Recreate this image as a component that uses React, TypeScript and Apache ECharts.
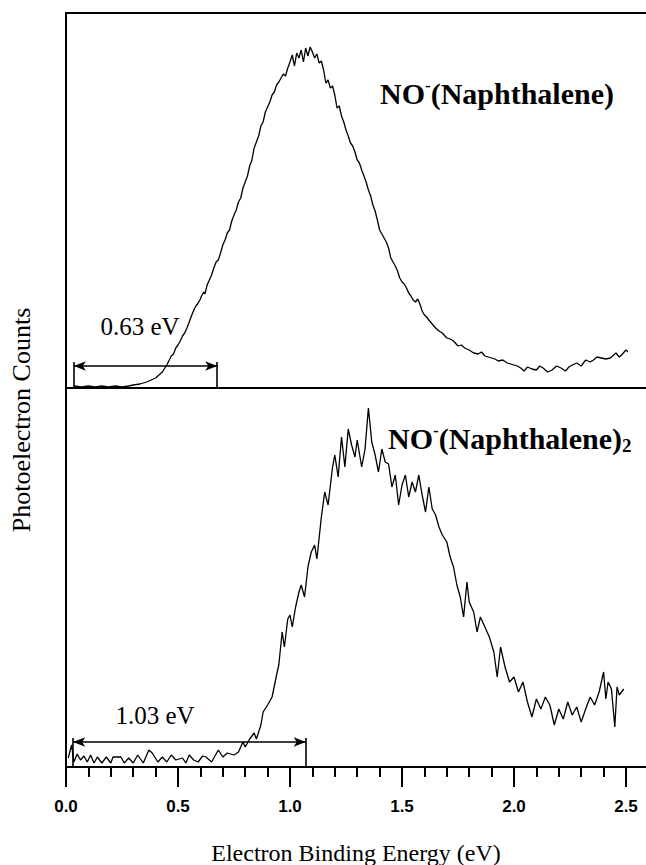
import { useEffect, useRef } from "react";
import * as echarts from "echarts";

// ---- data (arbitrary count units) ----
const topEnergy = [
  0.035, 0.07, 0.1, 0.13, 0.16, 0.19, 0.22, 0.25, 0.28, 0.3, 0.33, 0.36, 0.38, 0.4, 0.415, 0.43, 0.45, 0.47, 0.48, 0.49,
  0.5, 0.51, 0.52, 0.53, 0.54, 0.55, 0.56, 0.565, 0.575, 0.58, 0.59, 0.6, 0.605, 0.615, 0.62, 0.63, 0.64, 0.65, 0.66, 0.67,
  0.68, 0.69, 0.7, 0.71, 0.72, 0.73, 0.74, 0.75, 0.76, 0.77, 0.78, 0.79, 0.8, 0.81, 0.82, 0.83, 0.84, 0.85, 0.86, 0.87,
  0.88, 0.89, 0.9, 0.91, 0.92, 0.93, 0.94, 0.95, 0.96, 0.97, 0.98, 0.99, 1.0, 1.01, 1.02, 1.03, 1.04, 1.05, 1.06, 1.07,
  1.08, 1.09, 1.1, 1.11, 1.12, 1.13, 1.14, 1.15, 1.16, 1.17, 1.18, 1.19, 1.2, 1.21, 1.22, 1.23, 1.24, 1.25, 1.26, 1.27,
  1.28, 1.29, 1.3, 1.31, 1.32, 1.33, 1.34, 1.35, 1.36, 1.37, 1.38, 1.39, 1.4, 1.41, 1.42, 1.43, 1.44, 1.45, 1.46, 1.47,
  1.48, 1.49, 1.5, 1.51, 1.52, 1.53, 1.54, 1.55, 1.56, 1.57, 1.58, 1.59, 1.6, 1.61, 1.62, 1.635, 1.65, 1.665, 1.68, 1.7,
  1.715, 1.73, 1.75, 1.765, 1.78, 1.8, 1.82, 1.84, 1.855, 1.87, 1.885, 1.9, 1.915, 1.93, 1.95, 1.97, 1.985, 2.0, 2.015, 2.03,
  2.045, 2.06, 2.08, 2.1, 2.115, 2.13, 2.15, 2.17, 2.19, 2.21, 2.23, 2.245, 2.26, 2.28, 2.3, 2.32, 2.34, 2.355, 2.37, 2.39,
  2.41, 2.43, 2.445, 2.455, 2.47, 2.48, 2.5, 2.51, 2.525, 2.54,
];
const topCounts = [
  2, 1, 2, 1, 2, 1, 2, 1, 2, 3, 4, 6, 8, 10, 13, 16, 23, 32, 34, 40,
  43, 47, 52, 55, 60, 66, 72, 75, 80, 82, 85, 89, 92, 96, 94, 103, 108, 113, 120, 126,
  128, 135, 143, 148, 155, 158, 167, 173, 178, 186, 190, 200, 206, 212, 222, 228, 240, 246, 252, 262,
  266, 276, 281, 286, 293, 296, 303, 306, 310, 314, 312, 320, 326, 333, 322, 335, 330, 338, 326, 340,
  332, 341, 336, 330, 334, 325, 327, 318, 305, 308, 300, 302, 293, 280, 282, 272, 266, 258, 252, 245,
  242, 236, 228, 225, 218, 212, 206, 198, 192, 183, 177, 168, 158, 154, 150, 146, 140, 130, 126, 122,
  117, 110, 106, 104, 100, 95, 92, 88, 86, 89, 84, 77, 73, 71, 68, 64, 60, 57, 55, 50,
  49, 47, 42, 43, 40, 38, 35, 34, 36, 32, 31, 30, 29, 27, 28, 25, 24, 23, 22, 20,
  17, 21, 19, 18, 22, 20, 16, 18, 22, 20, 17, 21, 23, 25, 22, 28, 26, 28, 31, 30,
  29, 30, 33, 35, 31, 33, 38, 36, 34, 35,
];

const bottomEnergy = [
  0.01, 0.025, 0.035, 0.05, 0.065, 0.08, 0.095, 0.11, 0.125, 0.14, 0.16, 0.18, 0.2, 0.21, 0.245, 0.26, 0.28, 0.3, 0.32, 0.345,
  0.37, 0.385, 0.41, 0.43, 0.45, 0.47, 0.49, 0.52, 0.535, 0.55, 0.57, 0.59, 0.61, 0.625, 0.65, 0.68, 0.7, 0.72, 0.75, 0.77,
  0.79, 0.8, 0.82, 0.84, 0.85, 0.87, 0.88, 0.9, 0.92, 0.94, 0.95, 0.965, 0.975, 0.99, 1.0, 1.01, 1.025, 1.04, 1.05, 1.065,
  1.08, 1.095, 1.11, 1.12, 1.14, 1.155, 1.17, 1.19, 1.2, 1.215, 1.23, 1.245, 1.26, 1.275, 1.29, 1.3, 1.32, 1.335, 1.35, 1.365,
  1.38, 1.395, 1.41, 1.425, 1.44, 1.455, 1.47, 1.485, 1.5, 1.515, 1.53, 1.545, 1.56, 1.575, 1.59, 1.605, 1.62, 1.635, 1.65, 1.665,
  1.68, 1.7, 1.715, 1.73, 1.745, 1.76, 1.775, 1.79, 1.8, 1.82, 1.835, 1.85, 1.87, 1.89, 1.91, 1.925, 1.94, 1.96, 1.98, 2.0,
  2.02, 2.04, 2.06, 2.08, 2.1, 2.12, 2.14, 2.16, 2.18, 2.2, 2.22, 2.24, 2.26, 2.28, 2.3, 2.32, 2.34, 2.36, 2.38, 2.4,
  2.41, 2.42, 2.435, 2.45, 2.46, 2.47, 2.49,
];
const bottomCounts = [
  9, 22, 5, 13, 7, 11, 5, 12, 4, 10, 4, 10, 4, 10, 10, 4, 9, 4, 12, 4,
  17, 14, 5, 10, 5, 12, 7, 9, 4, 12, 7, 5, 11, 10, 5, 17, 10, 14, 12, 15,
  25, 20, 28, 34, 28, 42, 55, 62, 70, 92, 102, 135, 120, 148, 152, 140, 160, 175, 182, 170,
  200, 215, 222, 208, 250, 275, 262, 300, 312, 290, 330, 300, 338, 322, 310, 327, 300, 318, 359, 325,
  312, 295, 318, 305, 303, 280, 292, 262, 282, 292, 270, 285, 275, 292, 272, 255, 280, 258, 252, 240,
  232, 225, 210, 200, 182, 170, 150, 185, 165, 155, 135, 150, 140, 130, 115, 90, 120, 100, 85, 90,
  75, 85, 65, 50, 68, 58, 70, 62, 42, 58, 48, 65, 52, 60, 45, 58, 70, 62, 75, 95,
  68, 85, 78, 40, 80, 72, 78,
];

const xTickValues = [0, 0.5, 1.0, 1.5, 2.0, 2.5];
const topThreshold = { from: 0.035, to: 0.675, level: 22, label: "0.63 eV" };
const bottomThreshold = { from: 0.032, to: 1.07, level: 25, label: "1.03 eV" };
const xTitle = "Electron Binding Energy (eV)";
const yTitle = "Photoelectron Counts";

const BLACK = "#000";
const SERIF = "'Liberation Serif', 'Times New Roman', serif";
const SANS = "'Liberation Sans', Arial, sans-serif";

function zip(xs: number[], ys: number[]) {
  return xs.map((x, i) => [x, ys[i]]);
}

function thresholdMarks(t: { from: number; to: number; level: number }) {
  return {
    silent: true,
    symbol: ["none", "none"],
    lineStyle: { color: BLACK, width: 1.6, type: "solid" },
    label: { show: false },
    emphasis: { disabled: true },
    data: [
      [{ coord: [t.from, 0] }, { coord: [t.from, t.level + 4] }],
      [{ coord: [t.to, 0] }, { coord: [t.to, t.level + 4] }],
      [
        { coord: [t.from, t.level], symbol: "arrow", symbolSize: [7, 12] },
        { coord: [t.to, t.level], symbol: "arrow", symbolSize: [7, 12] },
      ],
    ],
  };
}

export default function App() {
  const ref = useRef<HTMLDivElement>(null);
  useEffect(() => {
    document.body.style.margin = "0";
    if (!ref.current) return;
    const chart = echarts.init(ref.current, undefined, { renderer: "svg" });
    const nameRich = {
      b: { fontFamily: SERIF, fontWeight: "bold", fontSize: 30, lineHeight: 33, color: BLACK },
      s: { fontFamily: SERIF, fontWeight: "bold", fontSize: 17, lineHeight: 17, color: BLACK, verticalAlign: "top" },
      u: { fontFamily: SERIF, fontWeight: "bold", fontSize: 19, lineHeight: 19, color: BLACK, verticalAlign: "bottom" },
    };
    const hiddenAxisBits = { axisTick: { show: false }, axisLabel: { show: false }, splitLine: { show: false } };
    const frameLine = { show: true, lineStyle: { color: BLACK, width: 2 } };
    chart.setOption({
      animation: false,
      backgroundColor: "#fff",
      grid: [
        { left: 66, top: 13, width: 560, height: 375 },
        { left: 66, top: 388, width: 560, height: 379 },
      ],
      xAxis: [
        { type: "value", gridIndex: 0, min: 0, max: 2.5, position: "bottom", axisLine: frameLine, ...hiddenAxisBits },
        { type: "value", gridIndex: 0, min: 0, max: 2.5, position: "top", axisLine: frameLine, ...hiddenAxisBits },
        {
          type: "value",
          gridIndex: 1,
          min: 0,
          max: 2.5,
          interval: 0.5,
          position: "bottom",
          axisLine: frameLine,
          axisTick: { show: true, inside: false, length: 20, lineStyle: { color: BLACK, width: 2 } },
          minorTick: { show: true, splitNumber: 5, length: 10, lineStyle: { color: BLACK, width: 2 } },
          splitLine: { show: false },
          axisLabel: {
            show: true,
            margin: 31,
            color: BLACK,
            fontFamily: SANS,
            fontWeight: "bold",
            fontSize: 17,
            formatter: (v: number) => (xTickValues.some((t) => Math.abs(t - v) < 1e-6) ? v.toFixed(1) : ""),
          },
        },
      ],
      yAxis: [
        { type: "value", gridIndex: 0, min: 0, max: 375, axisLine: frameLine, ...hiddenAxisBits },
        { type: "value", gridIndex: 1, min: 0, max: 379, axisLine: frameLine, ...hiddenAxisBits },
      ],
      series: [
        {
          type: "line",
          xAxisIndex: 0,
          yAxisIndex: 0,
          data: zip(topEnergy, topCounts),
          showSymbol: false,
          clip: false,
          lineStyle: { color: BLACK, width: 1.3 },
          markLine: thresholdMarks(topThreshold),
        },
        {
          type: "line",
          xAxisIndex: 2,
          yAxisIndex: 1,
          data: zip(bottomEnergy, bottomCounts),
          showSymbol: false,
          clip: false,
          lineStyle: { color: BLACK, width: 1.3 },
          markLine: thresholdMarks(bottomThreshold),
        },
      ],
      graphic: [
        { type: "line", shape: { x1: 625, y1: 13, x2: 646, y2: 13 }, style: { stroke: BLACK, lineWidth: 2 } },
        { type: "line", shape: { x1: 625, y1: 388, x2: 646, y2: 388 }, style: { stroke: BLACK, lineWidth: 2 } },
        { type: "line", shape: { x1: 625, y1: 767, x2: 646, y2: 767 }, style: { stroke: BLACK, lineWidth: 2 } },
        {
          type: "text",
          x: 380,
          y: 93,
          style: { text: "{b|NO}{s|-}{b|(Naphthalene)}", rich: nameRich, verticalAlign: "middle", align: "left" },
        },
        {
          type: "text",
          x: 388,
          y: 438,
          style: { text: "{b|NO}{s|-}{b|(Naphthalene)}{u|2}", rich: nameRich, verticalAlign: "middle", align: "left" },
        },
        {
          type: "text",
          x: 140,
          y: 326,
          style: { text: topThreshold.label, fontFamily: SERIF, fontSize: 25, fill: BLACK, align: "center", verticalAlign: "middle" },
        },
        {
          type: "text",
          x: 155,
          y: 715,
          style: { text: bottomThreshold.label, fontFamily: SERIF, fontSize: 25, fill: BLACK, align: "center", verticalAlign: "middle" },
        },
        {
          type: "text",
          x: 356,
          y: 853,
          style: { text: xTitle, fontFamily: SERIF, fontSize: 24, fill: BLACK, align: "center", verticalAlign: "middle" },
        },
        {
          type: "text",
          x: 21,
          y: 420,
          rotation: Math.PI / 2,
          style: { text: yTitle, fontFamily: SERIF, fontSize: 26, fill: BLACK, align: "center", verticalAlign: "middle" },
        },
      ],
    });
    return () => chart.dispose();
  }, []);
  return <div ref={ref} style={{ width: 646, height: 865, position: "absolute", left: 0, top: 0 }} />;
}
